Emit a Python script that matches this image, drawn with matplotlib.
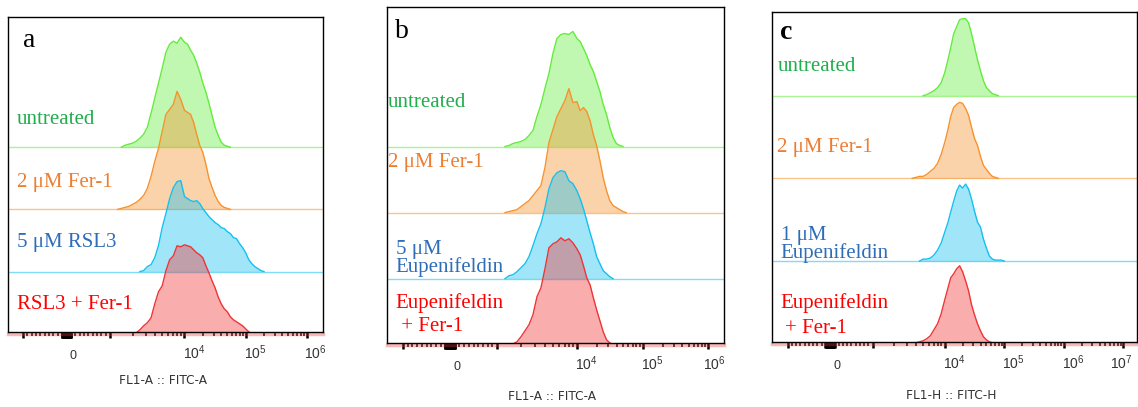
"""Staggered FITC histograms for three treatment panels"""

import numpy as np
import matplotlib
matplotlib.use("Agg")
import matplotlib.pyplot as plt
from matplotlib import transforms
from matplotlib.ticker import FixedLocator, NullFormatter

# histogram bin centres (FITC intensity), shared by all panels
fitc_bins = [1000, 1122, 1259, 1413, 1585, 1778, 1995, 2239, 2512, 2818,
             3162, 3548, 3981, 4467, 5012, 5623, 6310, 7079, 7943, 8913,
             10000, 11220, 12589, 14125, 15849, 17783, 19953, 22387, 25119, 28184,
             31623, 35481, 39811, 44668, 50119, 56234, 63096, 70795, 79433, 89125,
             100000, 112202, 125893, 141254, 158489, 177828, 199526]

# panel a: untreated, 2 uM Fer-1, 5 uM RSL3, RSL3 + Fer-1
a_untreated = [0, 0, 0, 0, 2, 3, 4, 6, 9, 13, 20, 34, 49, 64, 79, 95, 103, 106, 104, 110,
               105, 103, 97, 92, 84, 75, 64, 55, 44, 32, 20, 12, 5, 2, 1] + [0] * 12
a_fer1 = [0, 0, 0, 1, 2, 3, 5, 7, 10, 14, 21, 33, 48, 61, 78, 95, 100, 105, 118, 110,
          99, 97, 95, 87, 75, 64, 57, 45, 31, 22, 14, 8, 4, 2, 1] + [0] * 12
a_rsl3 = [0] * 9 + [1, 5, 7, 14, 26, 44, 58, 73, 84, 90, 91, 75, 73, 71, 70, 71, 68, 63, 59,
                    55, 52, 49, 47, 44, 43, 40, 38, 34, 33, 28, 24, 19, 12, 8, 5, 3, 1, 0]
a_rsl3_fer1 = [0] * 6 + [1, 1, 4, 8, 11, 16, 30, 42, 48, 63, 74, 78, 88, 87, 89, 88, 87, 84,
                         81, 79, 76, 68, 61, 53, 46, 37, 30, 25, 22, 17, 14, 12, 10, 8, 5, 2] + [0] * 5

# panel b: untreated, 2 uM Fer-1, 5 uM Eupenifeldin, Eupenifeldin + Fer-1
b_untreated = [0, 0, 0, 1, 3, 4, 5, 7, 11, 16, 30, 42, 58, 73, 93, 108, 112, 113, 112, 115,
               108, 105, 98, 91, 82, 75, 65, 55, 42, 32, 19, 9, 3, 1] + [0] * 13
b_fer1 = [0, 0, 0, 1, 2, 3, 6, 9, 12, 17, 22, 27, 45, 70, 83, 96, 104, 112, 124, 110,
          111, 102, 105, 101, 92, 78, 67, 52, 35, 22, 12, 7, 5, 3, 1] + [0] * 12
b_eup = [0, 0, 0, 3, 4, 7, 11, 15, 22, 33, 45, 55, 71, 90, 101, 106, 108, 107, 98, 95,
         88, 80, 70, 58, 46, 35, 22, 15, 8, 5, 2] + [0] * 16
b_eup_fer1 = [0, 0, 1, 1, 1, 3, 8, 14, 20, 30, 48, 57, 76, 97, 101, 103, 107, 104, 106, 102,
              96, 90, 79, 67, 60, 47, 35, 24, 13, 5, 2] + [0] * 16

# panel c: untreated, 2 uM Fer-1, 1 uM Eupenifeldin, Eupenifeldin + Fer-1
c_untreated = [0] * 15 + [1, 3, 5, 8, 13, 23, 35, 48, 62, 69, 76, 77, 77, 73, 62, 49, 36, 25,
                          15, 8, 5, 2, 1] + [0] * 9
c_fer1 = [0] * 12 + [1, 2, 2, 4, 7, 10, 15, 24, 36, 48, 62, 71, 74, 76, 75, 70, 63, 51, 40,
                     33, 22, 13, 9, 5, 2, 1] + [0] * 9
c_eup = [0] * 14 + [2, 2, 3, 6, 11, 18, 29, 38, 49, 60, 70, 76, 73, 77, 72, 62, 50, 39, 34,
                    22, 13, 5, 2, 1, 1, 1] + [0] * 7
c_eup_fer1 = [0] * 11 + [1, 1, 2, 3, 5, 8, 14, 20, 30, 44, 55, 66, 70, 75, 78, 72, 63, 53, 39,
                         29, 20, 13, 7, 4, 2, 1] + [0] * 10

a_labels = [["untreated"], ["2 μM Fer-1"], ["5 μM RSL3"], ["RSL3 + Fer-1"]]
b_labels = [["untreated"], ["2 μM Fer-1"], ["5 μM", "Eupenifeldin"], ["Eupenifeldin", " + Fer-1"]]
c_labels = [["untreated"], ["2 μM Fer-1"], ["1 μM", "Eupenifeldin"], ["Eupenifeldin", "+ Fer-1"]]

line_colors = ["#63ec3c", "#f7922e", "#14c0f0", "#f03434"]
text_colors = ["#1fae4b", "#ed7d31", "#2e6db8", "#ff0000"]

W, H = 1138, 407
plt.rcParams["font.family"] = ["Liberation Serif", "DejaVu Serif"]
plt.rcParams["mathtext.fontset"] = "custom"
plt.rcParams["mathtext.rm"] = "Liberation Sans"


def fwd(x):
    x = np.asarray(x, float)
    a = np.abs(x)
    lo = 1 + 1.7 * np.log10(np.maximum(a, 1000) / 1000)
    hi = 2.7 + 1.4 * np.log10(np.maximum(a, 1e4) / 1e4)
    u = np.where(a <= 1000, a / 1000, np.where(a <= 1e4, lo, hi))
    return np.sign(x) * u


def inv(u):
    u = np.asarray(u, float)
    a = np.abs(u)
    lo = 1000 * 10 ** ((np.clip(a, 1, 2.7) - 1) / 1.7)
    hi = 1e4 * 10 ** ((np.clip(a, 2.7, 12) - 2.7) / 1.4)
    x = np.where(a <= 1, a * 1000, np.where(a <= 2.7, lo, hi))
    return np.sign(u) * x


def px_box(left, top, right, bottom):
    return [left / W, 1 - bottom / H, (right - left) / W, (bottom - top) / H]


fig = plt.figure(figsize=(W / 100, H / 100), dpi=100)

panels = [
    dict(box=(8, 17, 323, 332.3), ulim=(-1.339, 5.870), lane=62.2, top=315.3,
         series=[a_untreated, a_fer1, a_rsl3, a_rsl3_fer1], labels=a_labels,
         label_pos=[[(17, 124)], [(17, 186.7)], [(17, 247.3)], [(17, 309)]],
         letter="a", letter_pos=(23, 46.7), letter_bold=False,
         decades=6, last_dx=8.5, xlabel="FL1-A :: FITC-A", xlabel_pos=(163, 381)),
    dict(box=(386.7, 6.7, 724, 343.3), ulim=(-1.347, 5.830), lane=66.1, top=336.6,
         series=[b_untreated, b_fer1, b_eup, b_eup_fer1], labels=b_labels,
         label_pos=[[(388, 107.3)], [(388, 166.7)], [(395.5, 254), (395.5, 271.7)],
                    [(395.5, 308.3), (395.5, 331)]],
         letter="b", letter_pos=(395, 37.7), letter_bold=False,
         decades=6, last_dx=6, xlabel="FL1-A :: FITC-A", xlabel_pos=(551.7, 396.7)),
    dict(box=(771.7, 11.7, 1136.7, 342.3), ulim=(-1.372, 7.216), lane=82.7, top=330.6,
         series=[c_untreated, c_fer1, c_eup, c_eup_fer1], labels=c_labels,
         label_pos=[[(777.3, 70.7)], [(777.3, 151.7)], [(780.7, 240), (780.7, 258.3)],
                    [(780, 308.3), (785, 332.7)]],
         letter="c", letter_pos=(780, 39.3), letter_bold=True,
         decades=7, last_dx=-2, xlabel="FL1-H :: FITC-H", xlabel_pos=(951.7, 395.7)),
]

for p in panels:
    ax = fig.add_axes(px_box(*p["box"]))
    ax.set_xscale("function", functions=(fwd, inv))
    ax.set_xlim(inv(p["ulim"][0]), inv(p["ulim"][1]))
    ax.set_ylim(1.5, p["top"] + 1.5)

    for k, counts in enumerate(p["series"]):
        base = (3 - k) * p["lane"]
        col = line_colors[k]
        nz = [i for i, c in enumerate(counts) if c > 0]
        i0, i1 = max(nz[0] - 1, 0), min(nz[-1] + 1, len(counts) - 1)
        xs = fitc_bins[i0:i1 + 1]
        ys = base + np.asarray(counts[i0:i1 + 1], float)
        if k < 3:
            ax.axhline(base, color=col, lw=1.0, alpha=0.55, zorder=1 + k)
        else:
            ax.axhline(base, color=col, lw=2.5, alpha=0.35, zorder=1 + k, clip_on=False)
        ax.fill_between(xs, base, ys, color=col, alpha=0.4, lw=0, zorder=1 + k)
        ax.plot(xs, ys, color=col, lw=1.0, zorder=1 + k)

    ax.set_yticks([])
    near_zero = list(range(-110, 0, 10)) + list(range(10, 120, 10))
    majors = [-1000, 0, 1000] + near_zero + [10 ** e for e in range(4, p["decades"] + 1)]
    minors = [-m for m in range(200, 1000, 100)] + list(range(200, 1000, 100))
    for e in range(3, p["decades"]):
        minors += [m * 10 ** e for m in range(2, 10)]
    ax.xaxis.set_major_locator(FixedLocator(majors))
    ax.xaxis.set_minor_locator(FixedLocator(minors))
    ax.xaxis.set_major_formatter(NullFormatter())
    ax.xaxis.set_minor_formatter(NullFormatter())
    ax.tick_params(axis="x", which="major", direction="out", length=4.6, width=1.8, color="black")
    ax.tick_params(axis="x", which="minor", direction="out", length=2.8, width=1.1, color="black")
    for s in ax.spines.values():
        s.set_linewidth(1.0)
        s.set_color("black")
        s.set_zorder(6)

    # tick labels: "0" and powers of ten, sitting right of their ticks
    label_vals = [0] + [10 ** e for e in range(4, p["decades"] + 1)]
    for v in label_vals:
        if v == 0:
            txt, dx, fs = "0", 6.5, 9
        else:
            txt, dx, fs = r"$\mathregular{10^{%d}}$" % int(round(np.log10(v))), 9.5, 10
            if v == label_vals[-1]:
                dx = p["last_dx"]
        tr = transforms.offset_copy(ax.get_xaxis_transform(), fig=fig, x=dx, y=-27, units="dots")
        ax.text(v, 0, txt, transform=tr, ha="center", va="baseline",
                fontsize=fs, color="#333333", family="Liberation Sans")

    fig.text(p["xlabel_pos"][0] / W, 1 - p["xlabel_pos"][1] / H, p["xlabel"],
             ha="center", va="center", fontsize=8.7, color="#333333", family="DejaVu Sans")

    for k, lines in enumerate(p["labels"]):
        for line, (lx, ly) in zip(lines, p["label_pos"][k]):
            fig.text(lx / W, 1 - ly / H, line, ha="left", va="baseline",
                     fontsize=15, color=text_colors[k])

    fig.text(p["letter_pos"][0] / W, 1 - p["letter_pos"][1] / H, p["letter"],
             ha="left", va="baseline", fontsize=20,
             fontweight="bold" if p["letter_bold"] else "normal", color="black")

fig.savefig("out.png", dpi=100)
